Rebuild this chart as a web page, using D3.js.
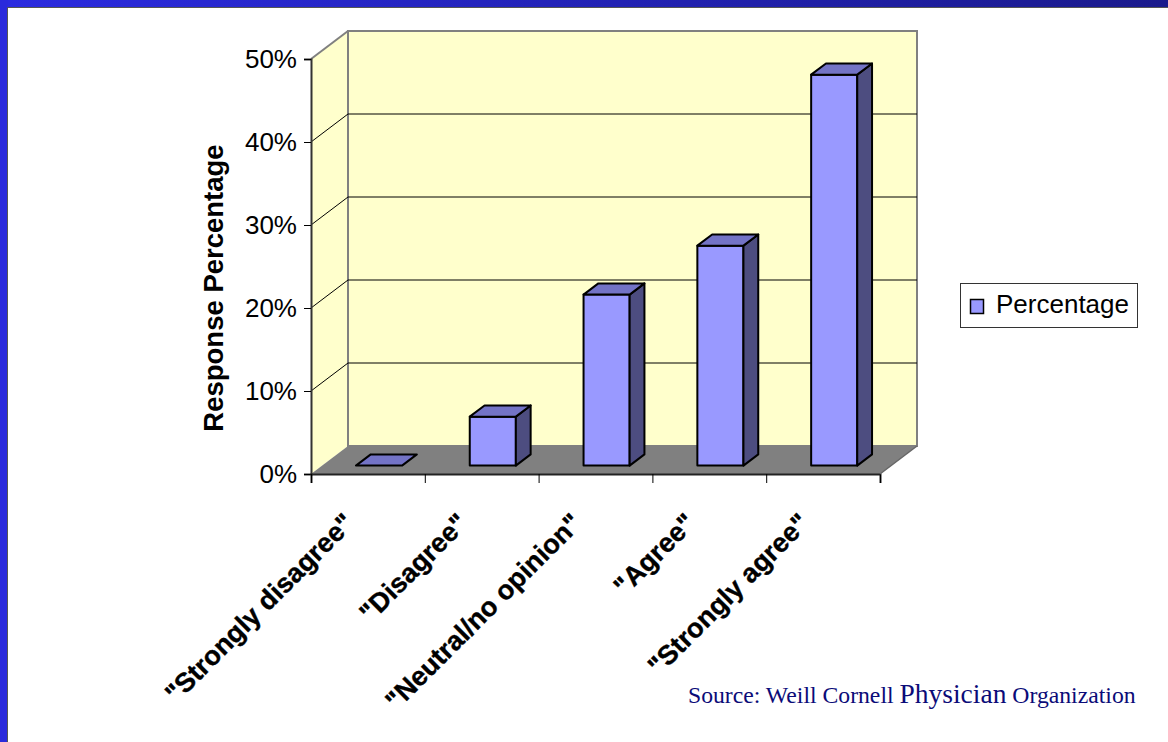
<!DOCTYPE html>
<html>
<head>
<meta charset="utf-8">
<script src="https://cdn.jsdelivr.net/npm/d3@7"></script>
<style>
    body { margin: 0; background: #ffffff; }
    svg { display: block; }
    .tickLabel { font-family: "Liberation Sans", Arial, sans-serif; }
</style>
</head>
<body>
<svg class="main" width="1168" height="742"></svg>
<script>
'use strict';

// data
var categories = ['"Strongly disagree"', '"Disagree"', '"Neutral/no opinion"', '"Agree"', '"Strongly agree"'];
var percentages = [0, 5.9, 20.6, 26.5, 47.1];
var yTicks = [0, 10, 20, 30, 40, 50];
var seriesName = 'Percentage';

var svg = d3.select('svg.main');
var font = '"Liberation Sans", Arial, sans-serif';

// plot box (front plane) + 3d depth
var x0 = 311, x1 = 880, yBottom = 474, yTop = 59;
var depthX = 37, depthY = -28;
var barZ0 = 0.3, barZ1 = 0.7;

var xBand = d3.scaleBand().domain(categories).range([x0, x1]).padding(0);
var xEdges = d3.scaleLinear().domain([0, categories.length]).range([x0, x1]);
var y = d3.scaleLinear().domain([0, 50]).range([yBottom, yTop]);
var barW = xBand.bandwidth() * 0.405;

// frame: blue slide border
var defs = svg.append('defs');
var grad = defs.append('linearGradient').attr('id', 'topGrad').attr('x1', '0%').attr('x2', '100%');
grad.append('stop').attr('offset', '0%').attr('stop-color', '#2b2be0');
grad.append('stop').attr('offset', '100%').attr('stop-color', '#1a1a8c');

svg.append('rect').attr('x', 0).attr('y', 0).attr('width', 1168).attr('height', 8).attr('fill', 'url(#topGrad)');
svg.append('rect').attr('x', 0).attr('y', 0).attr('width', 8).attr('height', 742).attr('fill', '#2a2adc');
svg.append('path')
    .attr('d', 'M7.5,742 L7.5,7.5 L1168,7.5')
    .attr('fill', 'none')
    .attr('stroke', '#555')
    .attr('stroke-width', 1);

function pts(arr) {
    return arr.map(function (p) { return p[0] + ',' + p[1]; }).join(' ');
}

var walls = svg.append('g').attr('class', 'walls');

// side wall
walls.append('polygon')
    .attr('points', pts([[x0, y(0)], [x0, y(50)], [x0 + depthX, y(50) + depthY], [x0 + depthX, y(0) + depthY]]))
    .attr('fill', '#ffffcc');

// back wall
walls.append('polygon')
    .attr('points', pts([[x0 + depthX, y(50) + depthY], [x1 + depthX, y(50) + depthY], [x1 + depthX, y(0) + depthY], [x0 + depthX, y(0) + depthY]]))
    .attr('fill', '#ffffcc')
    .attr('stroke', '#808080')
    .attr('stroke-width', 2);

// gridlines
var inner = yTicks.filter(function (d) { return d > 0 && d < 50; });
walls.selectAll('.gridBack')
    .data(inner)
    .enter()
    .append('line')
    .attr('x1', x0 + depthX)
    .attr('x2', x1 + depthX)
    .attr('y1', function (d) { return y(d) + depthY; })
    .attr('y2', function (d) { return y(d) + depthY; })
    .attr('stroke', '#000')
    .attr('stroke-width', 1);

walls.selectAll('.gridSide')
    .data(inner)
    .enter()
    .append('line')
    .attr('x1', x0)
    .attr('x2', x0 + depthX)
    .attr('y1', function (d) { return y(d); })
    .attr('y2', function (d) { return y(d) + depthY; })
    .attr('stroke', '#000')
    .attr('stroke-width', 1);

// top edge of side wall
walls.append('line')
    .attr('x1', x0).attr('y1', y(50))
    .attr('x2', x0 + depthX).attr('y2', y(50) + depthY)
    .attr('stroke', '#808080')
    .attr('stroke-width', 2);

// floor
walls.append('polygon')
    .attr('points', pts([[x0, y(0)], [x0 + depthX, y(0) + depthY], [x1 + depthX, y(0) + depthY], [x1, y(0)]]))
    .attr('fill', '#808080');

// bars
var bars = svg.append('g').attr('class', 'bars');
var fx = depthX * barZ0, fy = depthY * barZ0;
var dX = depthX * (barZ1 - barZ0), dY = depthY * (barZ1 - barZ0);

percentages.forEach(function (v, i) {
    var left = xBand(categories[i]) + xBand.bandwidth() / 2 - barW / 2 + fx;
    var right = left + barW;
    var bot = y(0) + fy;
    var top = y(v) + fy;
    var g = bars.append('g');

    if (v > 0) {
        g.append('polygon')
            .attr('points', pts([[left, bot], [left, top], [right, top], [right, bot]]))
            .attr('fill', '#9999ff')
            .attr('stroke', '#000')
            .attr('stroke-width', 2)
            .attr('stroke-linejoin', 'round');

        g.append('polygon')
            .attr('points', pts([[right, bot], [right, top], [right + dX, top + dY], [right + dX, bot + dY]]))
            .attr('fill', '#4d4d80')
            .attr('stroke', '#000')
            .attr('stroke-width', 2)
            .attr('stroke-linejoin', 'round');
    }

    g.append('polygon')
        .attr('points', pts([[left, top], [left + dX, top + dY], [right + dX, top + dY], [right, top]]))
        .attr('fill', '#7373c6')
        .attr('stroke', '#000')
        .attr('stroke-width', 2)
        .attr('stroke-linejoin', 'round');
});

// y axis
var yAxis = svg.append('g')
    .attr('transform', 'translate(' + x0 + ',0)')
    .call(d3.axisLeft(y).tickValues(yTicks).tickSize(7).tickPadding(7).tickFormat(function (d) { return d + '%'; }));

yAxis.select('.domain').attr('stroke', '#333').attr('stroke-width', 2);
yAxis.selectAll('.tick line').attr('stroke', '#000');
yAxis.selectAll('.tick text')
    .attr('font-family', font)
    .attr('font-size', 26)
    .attr('fill', '#000')
    .attr('dy', '0.33em');

// x axis (ticks between categories)
var xAxis = svg.append('g')
    .attr('transform', 'translate(0,' + y(0) + ')')
    .call(d3.axisBottom(xEdges).tickValues(d3.range(categories.length + 1)).tickSize(9).tickFormat(''));

xAxis.select('.domain').attr('stroke', '#222').attr('stroke-width', 2);
xAxis.selectAll('.tick line').attr('stroke', '#000');

svg.append('line')
    .attr('x1', x1).attr('y1', y(0))
    .attr('x2', x1 + depthX).attr('y2', y(0) + depthY)
    .attr('stroke', '#666')
    .attr('stroke-width', 1.5);

svg.append('g')
    .selectAll('text')
    .data(categories)
    .enter()
    .append('text')
    .attr('class', 'tickLabel')
    .attr('transform', function (d) {
        return 'translate(' + (xBand(d) + xBand.bandwidth() / 2 - 19) + ',518) rotate(-45)';
    })
    .attr('text-anchor', 'end')
    .attr('dy', '0.35em')
    .attr('font-size', 27)
    .attr('font-weight', 'bold')
    .attr('stroke', '#000')
    .attr('stroke-width', 0.4)
    .text(function (d) { return d; });

// axis title
svg.append('text')
    .attr('transform', 'translate(223,288) rotate(-90)')
    .attr('text-anchor', 'middle')
    .attr('font-family', font)
    .attr('font-size', 27.5)
    .attr('font-weight', 'bold')
    .text('Response Percentage');

// legend
var legend = svg.append('g').attr('class', 'legend');
legend.append('rect')
    .attr('x', 960.5).attr('y', 283.5)
    .attr('width', 177).attr('height', 44)
    .attr('fill', '#fff')
    .attr('stroke', '#333')
    .attr('stroke-width', 1);
legend.append('rect')
    .attr('x', 970.5).attr('y', 299.5)
    .attr('width', 13).attr('height', 14)
    .attr('fill', '#9999ff')
    .attr('stroke', '#000')
    .attr('stroke-width', 1.5);
legend.append('text')
    .attr('x', 996).attr('y', 313)
    .attr('font-family', font)
    .attr('font-size', 26)
    .text(seriesName);

// source note
var src = svg.append('text')
    .attr('x', 688).attr('y', 703)
    .attr('font-family', '"Liberation Serif", "Times New Roman", serif')
    .attr('fill', '#0b0b78')
    .attr('font-size', 23.7);
src.append('tspan').text('Source: Weill Cornell ');
src.append('tspan').attr('font-size', 27.5).text('Physician');
src.append('tspan').text(' Organization');
</script>
</body>
</html>
